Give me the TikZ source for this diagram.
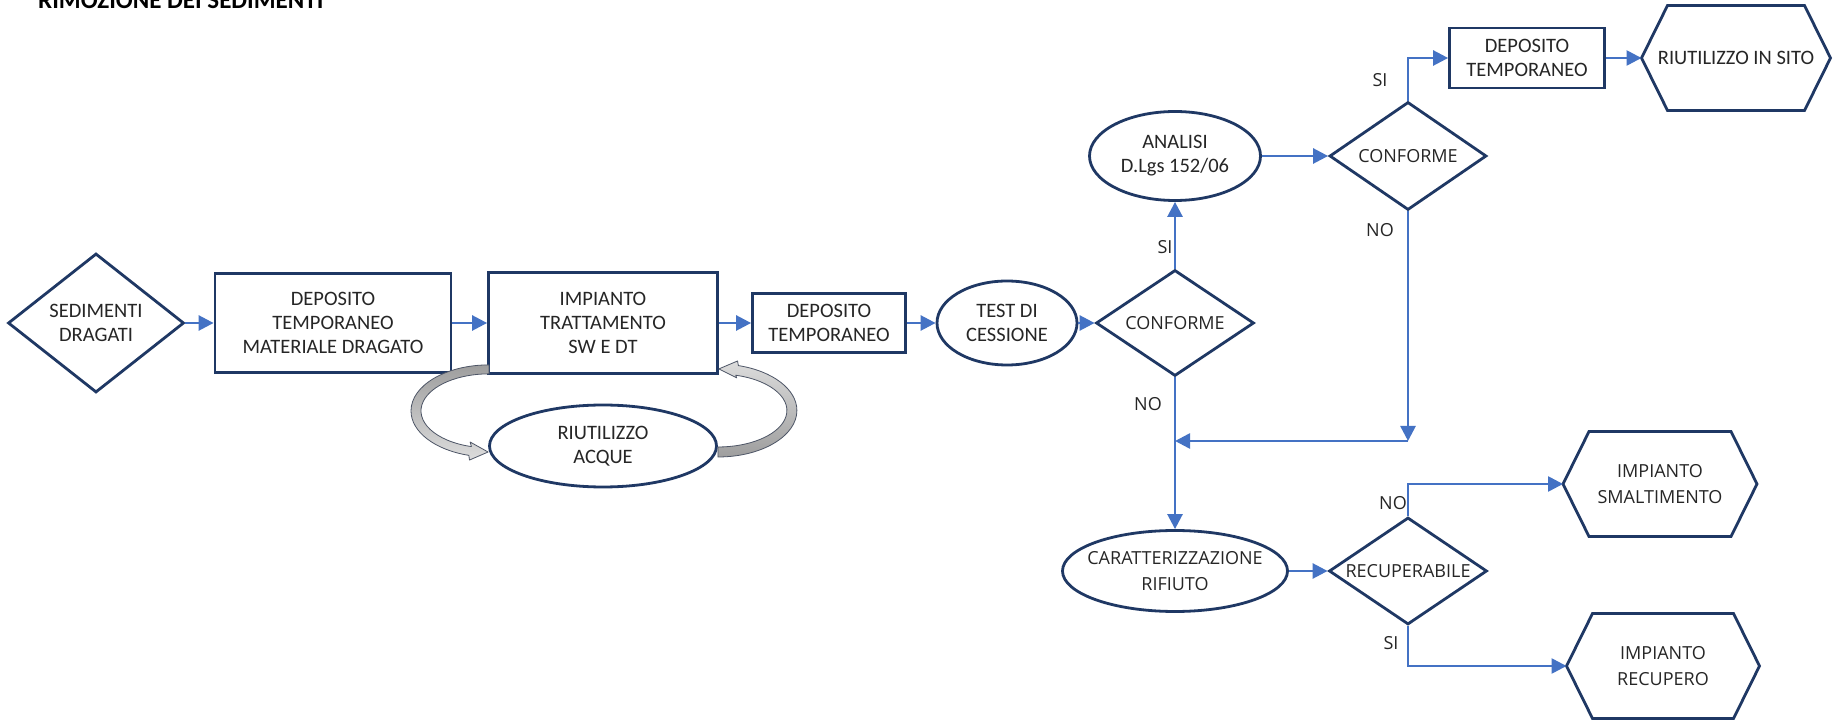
\documentclass[tikz,border=0pt]{standalone}
\usepackage{fontspec}
\usetikzlibrary{shapes.geometric,arrows.meta}
\newfontfamily\calibfont{Carlito}
\newfontfamily\segfont{Open Sans}
\newcommand{\calibtext}{\calibfont\fontsize{20.5}{24}\selectfont}
\newcommand{\segtext}{\segfont\fontsize{18}{26}\selectfont}
\newcommand{\titletext}{\calibfont\bfseries\fontsize{25}{28}\selectfont}
\definecolor{navy}{HTML}{1F3864}
\definecolor{flowblue}{HTML}{4472C4}
\definecolor{inkgray}{HTML}{262626}
\definecolor{bandedge}{HTML}{4D5566}
\definecolor{banddark}{HTML}{9E9E9E}
\definecolor{bandlight}{HTML}{DCDCDC}
\tikzset{
  base/.style={draw=navy, line width=2.8pt, inner sep=0pt, align=center, text=inkgray},
  box/.style={base, rectangle, font=\calibtext},
  oval/.style={base, ellipse, font=\calibtext},
  choice/.style={base, diamond, aspect=1.48, font=\segtext},
  hexa/.style={rectangle, inner sep=0pt, outer sep=0pt, minimum height=105pt, align=center, text=inkgray, font=\segtext},
  hexline/.style={draw=navy, line width=2.8pt, line join=miter},
  flow/.style={draw=flowblue, line width=2.6pt, -{Triangle[length=15pt,width=15pt]}},
  lbl/.style={font=\segtext, text=inkgray, inner sep=0pt},
  band/.style={draw=bandedge, line width=0.8pt, line join=round}
}
% hexagon outline round a named node
\newcommand{\hexframe}[1]{\draw[hexline] (#1.west) -- ([xshift=26pt]#1.north west) -- ([xshift=-26pt]#1.north east) -- (#1.east) -- ([xshift=-26pt]#1.south east) -- ([xshift=26pt]#1.south west) -- cycle;}
\begin{document}
\begin{tikzpicture}[x=1pt, y=1pt]
  \useasboundingbox (0,0) rectangle (1833,723);
  \fill[white] (0,0) rectangle (1833,723);
  % title, cut by the top edge
  \node[anchor=base west, font=\titletext, text=black, inner sep=0pt] (title) at (38,714) {RIMOZIONE DEI SEDIMENTI};

  % main row
  \node[choice, aspect=1.27, minimum width=176pt, minimum height=139pt, font=\calibtext] (sed) at (96,400) {SEDIMENTI\\DRAGATI};
  \node[box, minimum width=236pt, minimum height=99pt] (dep1) at (333,400) {DEPOSITO\\TEMPORANEO\\MATERIALE DRAGATO};
  \node[box, minimum width=229pt, minimum height=101pt] (imp) at (603,400) {IMPIANTO\\TRATTAMENTO\\SW E DT};
  \node[box, minimum width=153pt, minimum height=59pt] (dep2) at (829,400) {DEPOSITO\\TEMPORANEO};
  \node[oval, minimum width=140pt, minimum height=84pt] (test) at (1007,400) {TEST DI\\CESSIONE};
  \node[choice, minimum width=158pt, minimum height=106pt] (conf1) at (1175,400) {CONFORME};
  \node[oval, minimum width=227pt, minimum height=82pt] (acque) at (603,277) {RIUTILIZZO\\ACQUE};

  % upper branch
  \node[oval, minimum width=171pt, minimum height=89pt] (analisi) at (1175,567) {ANALISI\\D.Lgs 152/06};
  \node[choice, minimum width=157pt, minimum height=108pt] (conf2) at (1408,567) {CONFORME};
  \node[box, minimum width=155pt, minimum height=60pt] (dep3) at (1527,665) {DEPOSITO\\TEMPORANEO};
  \node[hexa, minimum width=189pt, font=\calibtext] (sito) at (1736,665) {RIUTILIZZO IN SITO};

  % lower branch
  \node[oval, minimum width=225pt, minimum height=81pt, inner xsep=-14pt, font=\segtext] (caratt) at (1175,152) {CARATTERIZZAZIONE\\RIFIUTO};
  \node[choice, minimum width=158pt, minimum height=107pt] (recup) at (1408,152) {RECUPERABILE};
  \node[hexa, minimum width=194pt] (smalt) at (1660,239) {IMPIANTO\\SMALTIMENTO};
  \node[hexa, minimum width=193pt] (recupero) at (1663,57) {IMPIANTO\\RECUPERO};
  \hexframe{sito}
  \hexframe{smalt}
  \hexframe{recupero}

  \coordinate (mrg) at (1408,282);
  \coordinate (mrgin) at (conf1.south |- mrg);

  \draw[flow] (sed) -- (dep1);
  \draw[flow] (dep1) -- (imp);
  \draw[flow] (imp) -- (dep2);
  \draw[flow] (dep2) -- (test);
  \draw[flow] (test) -- (conf1);
  \draw[flow] (conf1) -- (analisi);
  \draw[flow] (analisi) -- (conf2);
  \draw[flow] (conf2) |- (dep3);
  \draw[flow] (dep3) -- (sito);
  \draw[flow] (conf2) -- (mrg);
  \draw[flow] (mrg) -- (mrgin);
  \draw[flow] (conf1) -- (caratt);
  \draw[flow] (caratt) -- (recup);
  \draw[flow] (recup) |- (smalt);
  \draw[flow] (recup) |- (recupero);

  \node[lbl] (si2) at (1380,643) {SI};
  \node[lbl] (no2) at (1380,493) {NO};
  \node[lbl] (si1) at (1165,476) {SI};
  \node[lbl] (no1) at (1148,319) {NO};
  \node[lbl] (no3) at (1393,220) {NO};
  \node[lbl] (si3) at (1391,80) {SI};

  % water recycling loop
  \draw[band, top color=banddark, bottom color=bandlight]
    ([xshift=1.9pt,yshift=10pt]imp.south west)
    arc[start angle=90, end angle=255, x radius=78, y radius=46]
    -- ++(0.7,-4.7) -- ([yshift=-6pt]acque.west) -- ++(-18,10) -- ++(1.3,-4.6)
    arc[start angle=255, end angle=90, x radius=68, y radius=37] -- cycle;
  \draw[band, top color=bandlight, bottom color=banddark]
    ([yshift=-11pt]acque.east)
    arc[start angle=-90, end angle=75, x radius=79, y radius=46.5]
    -- ++(-0.8,4.6) -- ([yshift=6pt]imp.south east) -- ++(17.8,-9) -- ++(-0.94,2.66)
    arc[start angle=75, end angle=-90, x radius=69, y radius=36.5] -- cycle;
\end{tikzpicture}
\end{document}
